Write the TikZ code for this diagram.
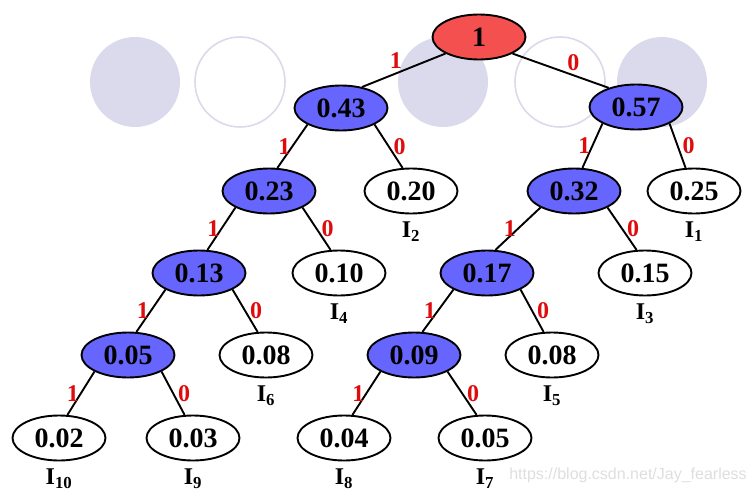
\documentclass[tikz,border=0pt]{standalone}
\usepackage{fontspec}
\setmainfont{Liberation Serif}
\setsansfont{Liberation Sans}
\usetikzlibrary{positioning,shapes.geometric}

\definecolor{innerblue}{RGB}{102,102,255}
\definecolor{rootred}{RGB}{245,80,80}
\definecolor{bitred}{RGB}{222,12,12}
\definecolor{dotlilac}{RGB}{218,218,236}
\definecolor{markgray}{RGB}{222,222,222}

\begin{document}
\begin{tikzpicture}[x=1pt, y=-1pt,
    weight/.style={ellipse, draw=black, line width=1.9pt, minimum width=93pt, minimum height=45pt,
      inner sep=0pt, font=\bfseries\fontsize{28}{28}\selectfont},
    rootnode/.style={weight, fill=rootred},
    merged/.style={weight, fill=innerblue},
    leaf/.style={weight, fill=white},
    leafname/.style={inner sep=0pt, font=\bfseries\fontsize{24}{24}\selectfont},
    branch/.style={draw=black, line width=1.9pt},
    bit/.style={inner sep=1pt, text=bitred, font=\bfseries\fontsize{24}{24}\selectfont},
    dot/.style={fill=dotlilac},
    ring/.style={draw=dotlilac, line width=1.6pt}]

    % Drawing Parameters
    \pgfmathsetmacro{\toprow}{37}%
    \pgfmathsetmacro{\rowone}{108}%
    \pgfmathsetmacro{\rowtwo}{191}%
    \pgfmathsetmacro{\rowthree}{273}%
    \pgfmathsetmacro{\rowfour}{355}%
    \pgfmathsetmacro{\bottomrow}{438}%
    \pgfmathsetmacro{\dotrow}{82}%
    \pgfmathsetmacro{\dotradius}{45}%

    \useasboundingbox (0,0) rectangle (754,492);

    %% Backdrop dots
    \fill[dot] (135,\dotrow) circle (\dotradius);
    \draw[ring] (240,\dotrow) circle (\dotradius);
    \fill[dot] (443,\dotrow) circle (\dotradius);
    \draw[ring] (560,\dotrow) circle (\dotradius);
    \fill[dot] (662,\dotrow) circle (\dotradius);

    %% Merged weights
    \node[rootnode] (root) at (479,\toprow) {1};
    \node[merged] (a043) at (341,\rowone) {0.43};
    \node[merged] (a057) at (636,107) {0.57};
    \node[merged] (a023) at (269,\rowtwo) {0.23};
    \node[merged] (a032) at (574,\rowtwo) {0.32};
    \node[merged] (a013) at (199,\rowthree) {0.13};
    \node[merged] (a017) at (487,\rowthree) {0.17};
    \node[merged] (a005) at (128,\rowfour) {0.05};
    \node[merged] (a009) at (414,\rowfour) {0.09};

    %% Source symbols
    \node[leaf] (l020) at (411,\rowtwo) {0.20};
    \node[leaf] (l025) at (694,\rowtwo) {0.25};
    \node[leaf] (l010) at (339,\rowthree) {0.10};
    \node[leaf] (l015) at (645,\rowthree) {0.15};
    \node[leaf] (l008a) at (266,\rowfour) {0.08};
    \node[leaf] (l008b) at (552,\rowfour) {0.08};
    \node[leaf] (l002) at (59,\bottomrow) {0.02};
    \node[leaf] (l003) at (193,\bottomrow) {0.03};
    \node[leaf] (l004) at (344,\bottomrow) {0.04};
    \node[leaf] (l005) at (485,\bottomrow) {0.05};

    % Symbol names
    \node[leafname, below=7pt of l025] (i1) {I\textsubscript{1}};
    \node[leafname, below=7pt of l020] (i2) {I\textsubscript{2}};
    \node[leafname, below=7pt of l015] (i3) {I\textsubscript{3}};
    \node[leafname, below=7pt of l010] (i4) {I\textsubscript{4}};
    \node[leafname, below=7pt of l008b] (i5) {I\textsubscript{5}};
    \node[leafname, below=7pt of l008a] (i6) {I\textsubscript{6}};
    \node[leafname, below=7pt of l005] (i7) {I\textsubscript{7}};
    \node[leafname, below=7pt of l004] (i8) {I\textsubscript{8}};
    \node[leafname, below=7pt of l003] (i9) {I\textsubscript{9}};
    \node[leafname, below=7pt of l002] (i10) {I\textsubscript{10}};

    %% Branches, 1 to the left and 0 to the right
    \draw[branch] (root.south west) -- node[bit, above left] {1} (a043.45);
    \draw[branch] (root.south east) -- node[bit, pos=0.55, above right] {0} (a057.145);

    \draw[branch] (a043.south west) -- node[bit, left] {1} (a023.70);
    \draw[branch] (a043.south east) -- node[bit, right=3pt] {0} (l020.110);
    \draw[branch] (a057.south west) -- node[bit, left] {1} (a032.70);
    \draw[branch] (a057.south east) -- node[bit, right=3pt] {0} (l025.110);

    \draw[branch] (a023.south west) -- node[bit, left] {1} (a013.70);
    \draw[branch] (a023.south east) -- node[bit, right=3pt] {0} (l010.110);
    \draw[branch] (a032.south west) -- node[bit, left] {1} (a017.70);
    \draw[branch] (a032.south east) -- node[bit, right=3pt] {0} (l015.110);

    \draw[branch] (a013.south west) -- node[bit, left] {1} (a005.70);
    \draw[branch] (a013.south east) -- node[bit, right=3pt] {0} (l008a.110);
    \draw[branch] (a017.south west) -- node[bit, left] {1} (a009.70);
    \draw[branch] (a017.south east) -- node[bit, right=3pt] {0} (l008b.110);

    \draw[branch] (a005.south west) -- node[bit, left] {1} (l002.70);
    \draw[branch] (a005.south east) -- node[bit, right=3pt] {0} (l003.110);
    \draw[branch] (a009.south west) -- node[bit, left] {1} (l004.70);
    \draw[branch] (a009.south east) -- node[bit, right=3pt] {0} (l005.110);

    % Watermark
    \node[text=markgray, font=\sffamily\fontsize{16}{16}\selectfont] (mark) at (628,475) {https://blog.csdn.net/Jay\_fearless};
  \end{tikzpicture}
\end{document}
